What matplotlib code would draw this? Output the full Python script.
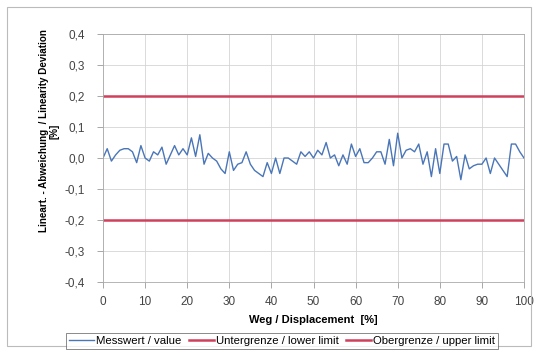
import numpy as np
import matplotlib
matplotlib.use("Agg")
from matplotlib import pyplot as plt

plt.rcParams['font.family'] = ['Liberation Sans', 'DejaVu Sans']

# displacement in %, one reading per percent
weg = list(range(0, 101))
messwert = [0.0, 0.03, -0.01, 0.01, 0.025, 0.03, 0.03, 0.02, -0.015, 0.04,
            0.0, -0.01, 0.02, 0.01, 0.035, -0.02, 0.01, 0.04, 0.01, 0.03,
            0.01, 0.065, 0.005, 0.075, -0.02, 0.015, 0.0, -0.01, -0.035, -0.05,
            0.02, -0.04, -0.02, -0.015, 0.02, -0.02, -0.04, -0.05, -0.06, -0.015,
            -0.05, 0.0, -0.05, 0.0, 0.0, -0.01, -0.02, 0.02, 0.005, 0.02,
            0.0, 0.025, 0.01, 0.05, 0.0, 0.01, -0.025, 0.01, -0.02, 0.045,
            0.005, 0.03, -0.015, -0.015, 0.0, 0.02, 0.02, -0.02, 0.06, -0.025,
            0.08, 0.0, 0.025, 0.03, 0.02, 0.045, -0.02, 0.02, -0.06, 0.03,
            -0.05, 0.045, 0.045, -0.01, 0.005, -0.07, 0.01, -0.035, -0.025, -0.02,
            -0.02, 0.0, -0.05, 0.0, -0.02, -0.04, -0.06, 0.045, 0.045, 0.02,
            0.0]
untergrenze = -0.2
obergrenze = 0.2

xticks = [0, 10, 20, 30, 40, 50, 60, 70, 80, 90, 100]
yticks = [-0.4, -0.3, -0.2, -0.1, 0.0, 0.1, 0.2, 0.3, 0.4]
ytick_labels = ["-0,4", "-0,3", "-0,2", "-0,1", "0,0", "0,1", "0,2", "0,3", "0,4"]

fig = plt.figure(figsize=(5.39, 3.53), dpi=100)
ax = fig.add_axes([103/539, 1-282/353, 421/539, 248/353])

ax.plot(weg, messwert, color='#4a76b8', lw=1.0, label='Messwert / value')
ax.plot([weg[0], weg[-1]], [untergrenze, untergrenze], color='#d0405a', lw=1.8,
        label='Untergrenze / lower limit')
ax.plot([weg[0], weg[-1]], [obergrenze, obergrenze], color='#d0405a', lw=1.8,
        label='Obergrenze / upper limit')

ax.set_xlim(0, 100)
ax.set_ylim(-0.4, 0.4)
ax.set_xticks(xticks)
ax.set_yticks(yticks)
ax.set_yticklabels(ytick_labels)
ax.tick_params(labelsize=8.5, colors='#444444', length=4, width=0.6, color='#999999')
ax.tick_params(axis='y', pad=9)
ax.tick_params(axis='x', pad=6)
ax.grid(True, color='#d4d4d4', lw=0.6)
for s in ax.spines.values():
    s.set_color('#aaaaaa')
    s.set_linewidth(0.6)

ax.set_xlabel('Weg / Displacement  [%]', fontsize=8, fontweight='bold', labelpad=5)
fig.text(49/539, 1-131/353, 'Lineart. - Abweichung  / Linearity Deviation\n[%]',
         rotation=90, fontsize=7.1, fontweight='bold', ha='center', va='center',
         multialignment='center', linespacing=1.05)

leg = fig.legend(loc='center', bbox_to_anchor=(282/539, 1-341/353), ncol=3,
                 fontsize=8.2, frameon=True, fancybox=False, handlelength=2.2,
                 handletextpad=0.2, columnspacing=0.6, borderpad=0.25)
leg.get_frame().set_edgecolor('#555555')
leg.get_frame().set_linewidth(0.6)

# outer chart border
fig.patches.append(plt.Rectangle((7/539, 1-346/353), 524/539, 339/353,
                                 transform=fig.transFigure, fill=False,
                                 edgecolor='#bbbbbb', lw=0.8))

fig.savefig('out.png', dpi=100)
